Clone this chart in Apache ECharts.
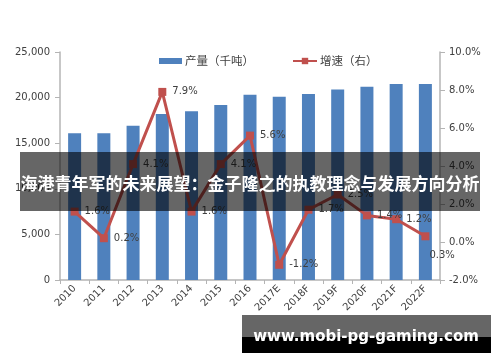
<!DOCTYPE html>
<html><head><meta charset="utf-8">
<script src="https://cdn.jsdelivr.net/npm/echarts@6/dist/echarts.min.js"></script>
<style>html,body{margin:0;padding:0;background:#fff}#c{width:500px;height:362px}</style>
</head><body><div id="c"></div>
<script>
const categories = ['2010','2011','2012','2013','2014','2015','2016','2017E','2018F','2019F','2020F','2021F','2022F'];
const production = [16100,16100,16900,18200,18500,19200,20300,20100,20400,20900,21200,21500,21500];
const growth = [1.6,0.2,4.1,7.9,1.6,4.1,5.6,-1.2,1.7,2.5,1.4,1.2,0.3];
const leftTicks = {min:0, max:25000, interval:5000};
const rightTicks = {min:-2, max:10, interval:2};
const seriesNames = ['产量（千吨）','增速（右）'];
const bannerText = '海港青年军的未来展望：金子隆之的执教理念与发展方向分析';
const watermarkText = 'www.mobi-pg-gaming.com';

const chart = echarts.init(document.getElementById('c'), null, {renderer:'canvas'});
const txt = '#404040', axisCol = '#b4b4b4';
const font = 'DejaVu Sans';
const lineData = growth.map((v,i)=> i===growth.length-1
  ? {value:v, label:{position:'right', offset:[-6,19]}} : v);
chart.setOption({
  animation:false,
  textStyle:{fontFamily:font},
  legend:[
    {data:[{name:seriesNames[0], icon:'rect'}], left:154, top:49, itemWidth:23, itemHeight:6, itemGap:0,
     textStyle:{color:txt, fontSize:11.5, fontFamily:'Noto Sans CJK SC', lineHeight:14, padding:[0,0,0,-2]}},
    {data:[seriesNames[1]], left:287, top:49, itemWidth:24, itemHeight:8, itemGap:0,
     textStyle:{color:txt, fontSize:11.5, fontFamily:'Noto Sans CJK SC', lineHeight:14, padding:[0,0,0,-2]}}
  ],
  grid:{left:60, right:60, top:52, bottom:82, containLabel:false},
  xAxis:{type:'category', data:categories, boundaryGap:true,
    axisLine:{lineStyle:{color:axisCol, width:1.5}},
    axisTick:{show:true, length:4, lineStyle:{color:axisCol}},
    axisLabel:{rotate:45, color:txt, fontSize:10, margin:7, interval:0, fontFamily:font}},
  yAxis:[
    {type:'value', min:leftTicks.min, max:leftTicks.max, interval:leftTicks.interval, position:'left',
     splitLine:{show:false},
     axisLine:{show:true, lineStyle:{color:axisCol, width:1.5}},
     axisTick:{show:true, length:5, lineStyle:{color:axisCol}},
     axisLabel:{color:txt, fontSize:10, margin:10, fontFamily:font,
       formatter:v=>v.toLocaleString('en-US')}},
    {type:'value', min:rightTicks.min, max:rightTicks.max, interval:rightTicks.interval, position:'right',
     splitLine:{show:false},
     axisLine:{show:true, lineStyle:{color:axisCol, width:1.5}},
     axisTick:{show:true, length:5, lineStyle:{color:axisCol}},
     axisLabel:{color:txt, fontSize:10, margin:9, fontFamily:font,
       formatter:v=>v.toFixed(1)+'%'}}
  ],
  series:[
    {name:seriesNames[0], type:'bar', data:production, yAxisIndex:0, barWidth:13,
     itemStyle:{color:'#4f81bd'}},
    {name:seriesNames[1], type:'line', data:lineData, yAxisIndex:1,
     symbol:'rect', symbolSize:8,
     lineStyle:{color:'#c0504d', width:3},
     itemStyle:{color:'#c0504d'},
     label:{show:true, position:'right', distance:6, color:txt, fontSize:10, fontFamily:font,
       formatter:p=>p.value.toFixed(1)+'%'}}
  ],
  graphic:[
    {type:'rect', z:100, shape:{x:20, y:152, width:460, height:59}, style:{fill:'rgba(0,0,0,0.6)'}},
    {type:'text', z:101, x:250, y:184, style:{text:bannerText, fill:'#fff', font:'bold 17px "Noto Sans CJK SC"', align:'center', verticalAlign:'middle'}},
    {type:'rect', z:100, shape:{x:242, y:315, width:249, height:22}, style:{fill:'#666666'}},
    {type:'rect', z:100, shape:{x:242, y:337, width:249, height:16}, style:{fill:'#000000'}},
    {type:'text', z:101, x:366, y:337, style:{text:watermarkText, fill:'#fff', font:'bold 15px "DejaVu Sans"', align:'center', verticalAlign:'middle'}}
  ]
});
</script></body></html>
